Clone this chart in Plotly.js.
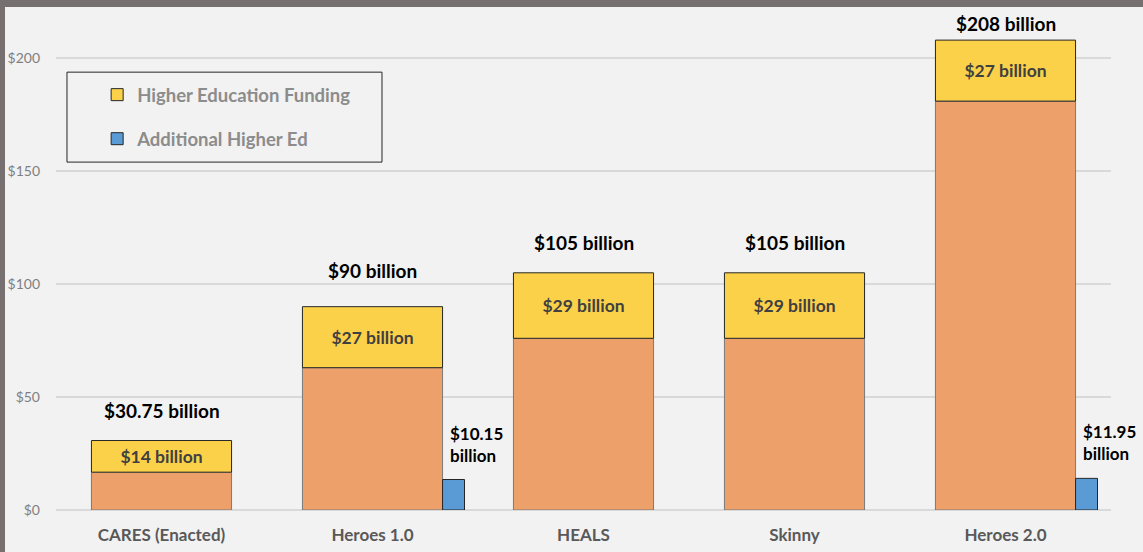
<!DOCTYPE html>
<html>
<head>
<meta charset="utf-8">
<script src="https://cdn.plot.ly/plotly-3.0.1.min.js"></script>
<style>
  html, body { margin: 0; padding: 0; background: #767170; width: 1143px; height: 552px; overflow: hidden; }
  #chart { position: absolute; left: 5px; top: 7px; width: 1138px; height: 545px; }
</style>
</head>
<body>
<div id="chart"></div>
<script>
// ---- data ----
const categories = ['CARES (Enacted)', 'Heroes 1.0', 'HEALS', 'Skinny', 'Heroes 2.0'];
const otherFunding = [16.75, 63, 76, 76, 181];
const higherEdFunding = [14, 27, 29, 29, 27];
const higherEdLabels = ['$14 billion', '$27 billion', '$29 billion', '$29 billion', '$27 billion'];
const totals = [30.75, 90, 105, 105, 208];
const totalLabels = ['$30.75 billion', '$90 billion', '$105 billion', '$105 billion', '$208 billion'];
const additionalCats = ['Heroes 1.0', 'Heroes 2.0'];
const additionalValues = [13.5, 14];
const additionalLabels = ['$10.15<br>billion', '$11.95<br>billion'];
const yTickVals = [0, 50, 100, 150, 200];
const yTickText = ['$0', '$50', '$100', '$150', '$200'];

// ---- styling ----
const FONT = 'Lato, "Open Sans", sans-serif';
const mainWidth = 0.664, mainOffset = -0.332;
const blueWidth = 0.104;
const totalLabelShift = [31, 37, 31, 31, 17];

const traces = [
  {
    type: 'bar', name: 'Other', x: categories, y: otherFunding,
    width: mainWidth, offset: mainOffset, showlegend: false,
    marker: { color: '#eda06a', line: { color: '#7a7a7a', width: 1 } },
    hoverinfo: 'skip'
  },
  {
    type: 'bar', name: 'Higher Education Funding', x: categories, y: higherEdFunding,
    base: otherFunding, width: mainWidth, offset: mainOffset,
    legendgroup: 'a',
    marker: { color: '#fcd14a', line: { color: '#262626', width: 1 } },
    text: higherEdLabels, textposition: 'inside', insidetextanchor: 'middle',
    textangle: 0, constraintext: 'none',
    textfont: { family: FONT, size: 17.5, color: '#404040', weight: 'bold' },
    hoverinfo: 'skip'
  },
  {
    type: 'bar', name: 'Additional Higher Ed', x: additionalCats, y: additionalValues,
    width: blueWidth, offset: -mainOffset,
    legendgroup: 'b',
    marker: { color: '#5b9bd5', line: { color: '#262626', width: 1 } },
    hoverinfo: 'skip'
  }
];

const annotations = [];
categories.forEach((c, i) => {
  annotations.push({
    x: c, y: totals[i], xref: 'x', yref: 'y', yanchor: 'bottom', yshift: totalLabelShift[i] - 14,
    text: '<b>' + totalLabels[i] + '</b>', showarrow: false,
    font: { family: FONT, size: 19, color: '#000000' }
  });
});
additionalCats.forEach((c, i) => {
  annotations.push({
    x: c, y: additionalValues[i], xref: 'x', yref: 'y', xanchor: 'left', yanchor: 'bottom',
    xshift: 75, yshift: 12, align: 'left',
    text: '<b>' + additionalLabels[i] + '</b>', showarrow: false,
    font: { family: FONT, size: 17, color: '#000000' }
  });
});

const layout = {
  width: 1138, height: 545,
  margin: { l: 51, r: 32, t: 6, b: 42 },
  paper_bgcolor: '#f2f2f2', plot_bgcolor: '#f2f2f2',
  barmode: 'overlay',
  font: { family: FONT },
  xaxis: {
    type: 'category', range: [-0.5, 4.5], showgrid: false, zeroline: false, showline: false,
    ticks: '', tickfont: { family: FONT, size: 17, color: '#595959', weight: 'bold' },
    ticklabelstandoff: 13
  },
  yaxis: {
    range: [0, 220], tickvals: yTickVals, ticktext: yTickText,
    showgrid: true, gridcolor: '#d9d9d9', gridwidth: 1.5,
    zeroline: true, zerolinecolor: '#d9d9d9', zerolinewidth: 1.5, showline: false,
    ticks: '', tickfont: { family: FONT, size: 14, color: '#7f7f7f' },
    ticklabelstandoff: 15
  },
  showlegend: true,
  legend: {
    x: 0.039, y: 0.873, xanchor: 'left', yanchor: 'top',
    bgcolor: 'rgba(0,0,0,0)', borderwidth: 0,
    traceorder: 'grouped', tracegroupgap: 17,
    font: { family: FONT, size: 18.5, color: '#8c8c8c', weight: 'bold' }
  },
  shapes: [{
    type: 'rect', xref: 'paper', yref: 'paper',
    x0: 0.0104, x1: 0.309, y0: 0.700, y1: 0.881,
    line: { color: '#262626', width: 1 }, fillcolor: 'rgba(0,0,0,0)', layer: 'below'
  }],
  annotations: annotations
};

Plotly.newPlot('chart', traces, layout, { displayModeBar: false, staticPlot: true });
</script>
</body>
</html>
